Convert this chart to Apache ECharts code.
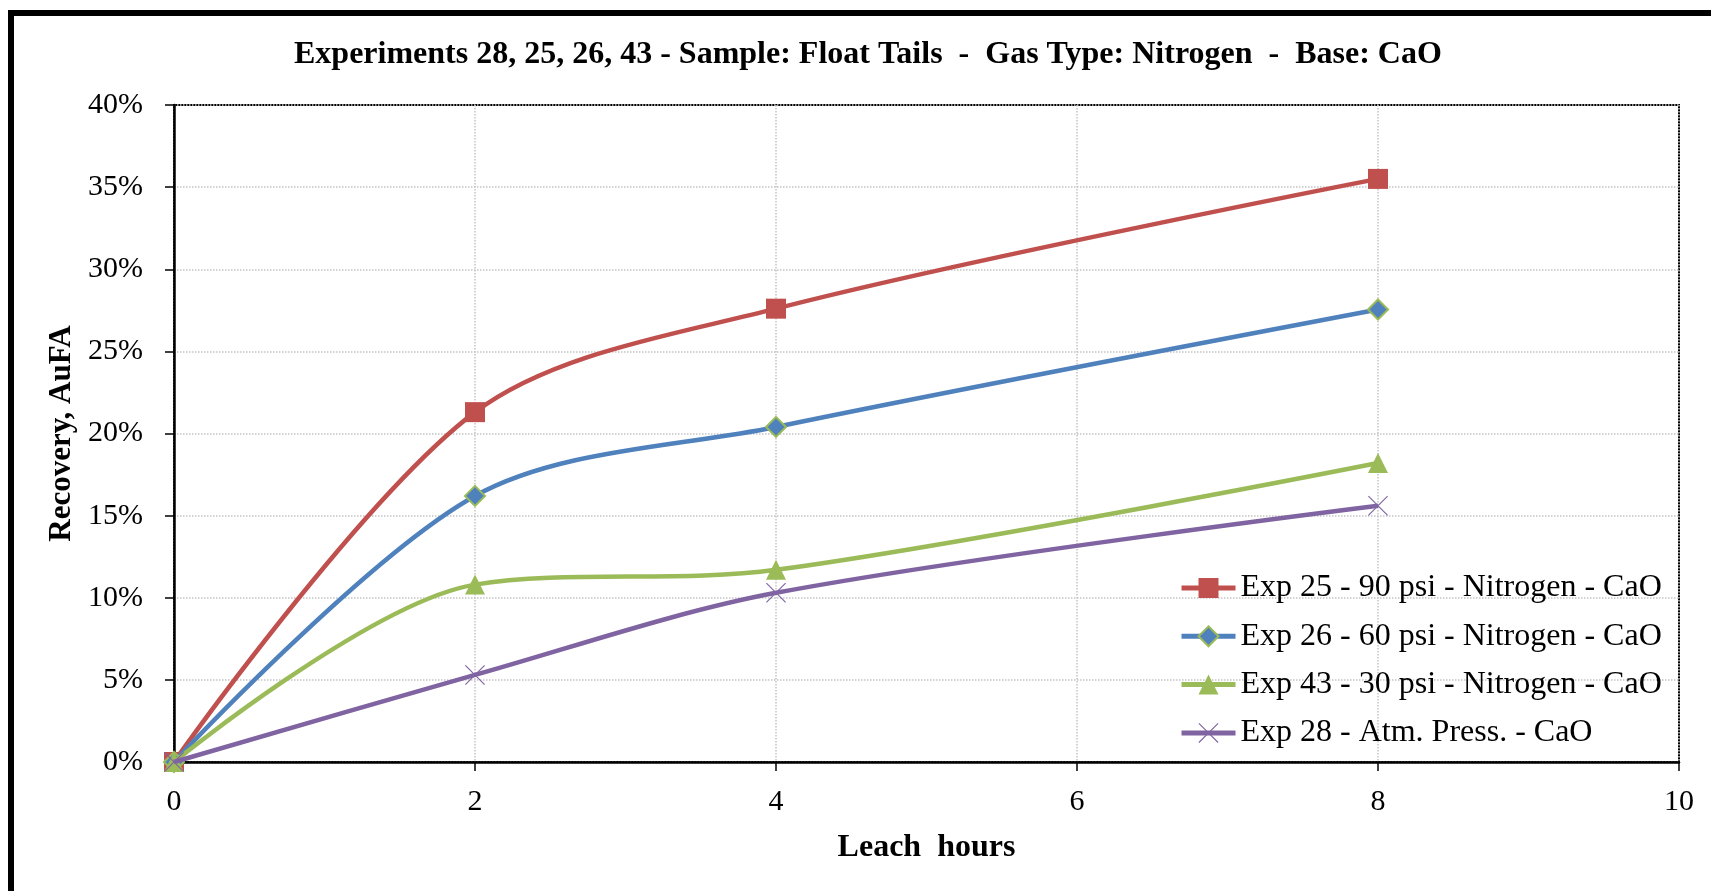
<!DOCTYPE html>
<html>
<head>
<meta charset="utf-8">
<script src="https://cdn.jsdelivr.net/npm/echarts@6/dist/echarts.min.js"></script>
<style>
html,body{margin:0;padding:0;background:#fff;}
#chart{width:1711px;height:891px;}
</style>
</head>
<body>
<div id="chart"></div>
<script>
// ---- data ----
const leachHours = [0, 2, 4, 8];
const seriesNames = [
  'Exp 25 - 90 psi - Nitrogen - CaO',
  'Exp 26 - 60 psi - Nitrogen - CaO',
  'Exp 43 - 30 psi - Nitrogen - CaO',
  'Exp 28 - Atm. Press. - CaO'
];
const exp25 = [0, 21.3, 27.6, 35.5];
const exp26 = [0, 16.2, 20.4, 27.55];
const exp43 = [0, 10.8, 11.7, 18.2];
const exp28 = [0, 5.3, 10.3, 15.6];
const xTicks = [0, 2, 4, 6, 8, 10];
const yTicks = [0, 5, 10, 15, 20, 25, 30, 35, 40];
const titleText = 'Experiments 28, 25, 26, 43 - Sample: Float Tails  -  Gas Type: Nitrogen  -  Base: CaO';
const xName = 'Leach  hours';
const yName = 'Recovery, AuFA';

// ---- styles ----
const FONT = '"Liberation Serif", "Times New Roman", serif';
const colors = ['#C0504D', '#4F81BD', '#9BBB59', '#8064A2'];
const symbols = [
  'rect',
  'diamond',
  'triangle',
  'path://M0,0.8L0.8,0L20,19.2L19.2,20Z M19.2,0L20,0.8L0.8,20L0,19.2Z'
];
const allData = [exp25, exp26, exp43, exp28];

const series = allData.map((vals, i) => ({
  name: seriesNames[i],
  type: 'line',
  smooth: 0.32,
  data: leachHours.map((h, k) => [h, vals[k]]),
  symbol: symbols[i],
  symbolSize: 20,
  showAllSymbol: true,
  lineStyle: { color: colors[i], width: 4.5 },
  itemStyle: i === 1
    ? { color: colors[i], borderColor: '#9BBB59', borderWidth: 2 }
    : { color: colors[i], borderWidth: 0 },
  emphasis: { disabled: true },
  z: 3 + i
}));

const chart = echarts.init(document.getElementById('chart'), null, { renderer: 'canvas' });
chart.setOption({
  animation: false,
  backgroundColor: '#fff',
  title: {
    text: titleText,
    left: 294,
    top: 39,
    padding: 0,
    textStyle: { fontFamily: FONT, fontWeight: 'bold', fontSize: 32, color: '#000' }
  },
  graphic: [{
    type: 'rect',
    shape: { x: 11, y: 13, width: 1800, height: 1000 },
    style: { fill: 'none', stroke: '#000', lineWidth: 6 },
    silent: true
  }],
  legend: {
    orient: 'vertical',
    left: 1179,
    top: 572,
    padding: 0,
    itemWidth: 54,
    itemHeight: 25,
    itemGap: 16.3,
    lineStyle: { width: 5 },
    textStyle: { fontFamily: FONT, fontSize: 32, color: '#000', lineHeight: 32 },
    data: seriesNames
  },
  grid: {
    left: 174, right: 32, top: 105, bottom: 129,
    show: true, borderColor: '#000', borderWidth: 2, backgroundColor: 'transparent'
  },
  xAxis: {
    type: 'value',
    min: xTicks[0], max: xTicks[xTicks.length - 1], interval: 2,
    name: xName,
    nameLocation: 'middle',
    nameGap: 70,
    nameTextStyle: { fontFamily: FONT, fontWeight: 'bold', fontSize: 32, color: '#000' },
    axisLine: { show: true, onZero: false, lineStyle: { color: '#000', width: 2.5 } },
    axisTick: { show: true, inside: false, length: 9, lineStyle: { color: '#000', width: 1.5 } },
    axisLabel: { fontFamily: FONT, fontSize: 30, color: '#000', margin: 25 },
    splitLine: { show: true, lineStyle: { color: '#C4C4C4', type: 'dotted', width: 1.5 } }
  },
  yAxis: {
    type: 'value',
    min: yTicks[0], max: yTicks[yTicks.length - 1], interval: 5,
    name: yName,
    nameLocation: 'middle',
    nameGap: 92,
    nameTextStyle: { fontFamily: FONT, fontWeight: 'bold', fontSize: 31, color: '#000' },
    axisLine: { show: true, lineStyle: { color: '#000', width: 2.5 } },
    axisTick: { show: true, inside: false, length: 9, lineStyle: { color: '#000', width: 1.5 } },
    axisLabel: { fontFamily: FONT, fontSize: 30, color: '#000', margin: 31, formatter: v => v + '%' },
    splitLine: { show: true, lineStyle: { color: '#C4C4C4', type: 'dotted', width: 1.5 } }
  },
  series: series
});
</script>
</body>
</html>
